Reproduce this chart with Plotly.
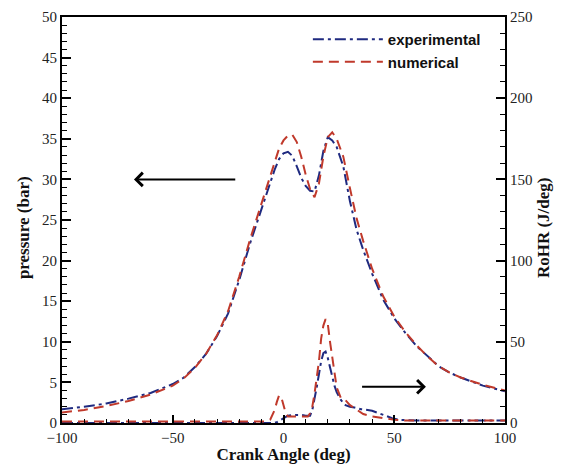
import plotly.graph_objects as go

# Pressure (bar) vs crank angle (deg)
angle_p = [-100, -90, -80, -70, -60, -50, -45, -40, -35, -30, -25, -20, -15, -10, -7, -4, -2, 0,
           2, 4, 6, 8, 10, 12, 14, 16, 18, 20, 22, 24, 27, 30, 33, 36, 40, 45, 50, 55, 60, 65,
           70, 75, 80, 90, 100]
p_exp = [1.7, 2.0, 2.4, 3.0, 3.7, 4.8, 5.6, 6.9, 8.5, 10.7, 13.5, 17.6, 22.2, 26.3, 28.9, 31.2,
         32.5, 33.2, 33.4, 32.9, 31.6, 30.2, 29.2, 28.6, 28.5, 30.5, 33.5, 35.2, 34.8, 34.0, 31.6,
         27.3, 23.8, 21.3, 18.4, 15.2, 12.9, 11.1, 9.5, 8.2, 7.0, 6.2, 5.6, 4.6, 3.9]
p_num = [1.3, 1.6, 2.1, 2.7, 3.5, 4.6, 5.5, 6.8, 8.5, 10.8, 13.8, 18.0, 22.7, 27.0, 29.8, 32.3,
         33.8, 34.8, 35.4, 35.5, 34.6, 32.8, 30.6, 28.8, 27.8, 29.5, 32.8, 35.2, 35.8, 35.0, 32.8,
         28.9, 25.2, 22.4, 19.0, 15.6, 13.1, 11.2, 9.6, 8.2, 7.0, 6.2, 5.6, 4.7, 4.0]

# Rate of heat release (J/deg)
angle_h_exp = [-100, -60, -20, -5, -3, -1, 0, 2, 4, 6, 8, 10, 12, 13, 14, 15, 16, 17, 18, 19, 20,
               21, 22, 23, 24, 26, 28, 30, 32, 35, 38, 40, 43, 46, 49, 52, 60, 70, 80, 90, 100]
h_exp = [0, 0, 0, 0, 0.5, 2, 3, 4.5, 5, 5, 5, 4.5, 4.5, 8, 14, 22, 30, 38, 43, 44, 40,
         34, 28, 23, 19, 14, 11, 10, 9.5, 8.5, 8, 7.5, 6, 4.5, 3, 2, 1.5, 1.5, 1.5, 1.5, 1.5]
angle_h_num = [-100, -60, -20, -8, -6, -4, -3, -2, -1, 0, 1, 2, 4, 6, 8, 10, 11, 12, 13, 14, 15,
               16, 17, 18, 19, 20, 21, 22, 23, 24, 26, 28, 30, 33, 36, 40, 45, 50, 55, 60, 70,
               80, 90, 100]
h_num = [1, 1, 1, 1, 2, 8, 13, 17, 16, 11, 6, 4, 4, 4, 4, 4, 4, 6, 10, 18, 28,
         38, 52, 60, 64, 61, 50, 40, 29, 22, 15, 14, 11, 8, 5.5, 4, 3, 2, 1.5, 1.5, 1.5,
         1.5, 1.5, 1.5]

BLUE = "#1f2a80"
RED = "#c0392b"
DASHDOT = "11px,4px,3px,4px"
DASH = "10px,6px"

fig = go.Figure()
fig.add_trace(go.Scatter(x=angle_p, y=p_exp, mode="lines", name="experimental",
                         line=dict(color=BLUE, width=2, dash=DASHDOT)))
fig.add_trace(go.Scatter(x=angle_p, y=p_num, mode="lines", name="numerical",
                         line=dict(color=RED, width=2, dash=DASH)))
fig.add_trace(go.Scatter(x=angle_h_exp, y=h_exp, mode="lines", yaxis="y2", showlegend=False,
                         line=dict(color=BLUE, width=2, dash=DASHDOT)))
fig.add_trace(go.Scatter(x=angle_h_num, y=h_num, mode="lines", yaxis="y2", showlegend=False,
                         line=dict(color=RED, width=2, dash=DASH)))

tickfont = dict(family="Liberation Serif", size=15, color="#222")
titlefont = dict(family="Liberation Serif", size=17, color="#111", weight="bold")

fig.update_layout(
    width=566, height=464,
    margin=dict(l=62, r=61, t=17, b=41),
    paper_bgcolor="white", plot_bgcolor="white",
    showlegend=True,
    legend=dict(x=0.555, y=0.985, xanchor="left", yanchor="top", itemwidth=70,
                bgcolor="rgba(0,0,0,0)", borderwidth=0,
                font=dict(family="Liberation Sans", size=15, color="#111", weight="bold")),
    xaxis=dict(range=[-100, 100], tickvals=[-100, -50, 0, 50, 100], ticks="inside",
               ticklen=8, tickwidth=2, tickcolor="black", showline=True, linewidth=2,
               linecolor="black", mirror=True, showgrid=False, zeroline=False,
               tickfont=tickfont, automargin=False,
               minor=dict(dtick=10, ticks="inside", ticklen=4, tickwidth=1, tickcolor="black",
                          showgrid=False),
               title=dict(text="Crank Angle (deg)", font=titlefont)),
    yaxis=dict(range=[0, 50], dtick=5, ticks="inside", ticklen=9, tickwidth=2,
               tickcolor="black", showline=True, linewidth=2, linecolor="black", mirror=True,
               showgrid=False, zeroline=False, tickfont=tickfont, automargin=False,
               minor=dict(dtick=1, ticks="inside", ticklen=5, tickwidth=1, tickcolor="black",
                          showgrid=False)),
    yaxis2=dict(range=[0, 250], dtick=50, overlaying="y", side="right", ticks="inside",
                ticklen=9, tickwidth=2, tickcolor="black", showline=True, linewidth=2,
                linecolor="black", showgrid=False, zeroline=False, tickfont=tickfont,
                automargin=False,
                minor=dict(dtick=10, ticks="inside", ticklen=5, tickwidth=1, tickcolor="black",
                           showgrid=False)),
)

# Y-axis titles placed as rotated annotations
fig.add_annotation(x=0, y=0.48, xref="paper", yref="paper", xshift=-39, text="pressure (bar)",
                   textangle=-90, showarrow=False, font=titlefont, xanchor="center",
                   yanchor="middle")
fig.add_annotation(x=1, y=0.48, xref="paper", yref="paper", xshift=38, text="RoHR (J/deg)",
                   textangle=-90, showarrow=False, font=titlefont, xanchor="center",
                   yanchor="middle")

# Arrows indicating which axis each pair of curves belongs to
fig.add_annotation(x=-67.5, y=30, ax=-21.1, ay=30, xref="x", yref="y", axref="x", ayref="y",
                   text="", showarrow=True, arrowhead=4, arrowsize=1.3, arrowwidth=2,
                   arrowcolor="black")
fig.add_annotation(x=64.3, y=22.3, ax=34.8, ay=22.3, xref="x", yref="y2", axref="x", ayref="y2",
                   text="", showarrow=True, arrowhead=4, arrowsize=1.3, arrowwidth=2,
                   arrowcolor="black")

fig.write_html("out.html")
